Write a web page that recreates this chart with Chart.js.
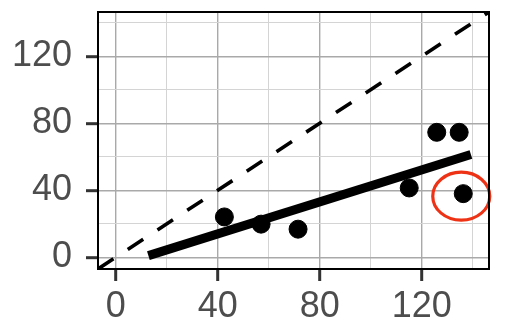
<!DOCTYPE html>
<html>
<head>
<meta charset="utf-8">
<script src="https://cdn.jsdelivr.net/npm/chart.js@4.4.1/dist/chart.umd.min.js"></script>
<style>
    html, body { margin: 0; padding: 0; background: #ffffff; }
    #wrap { width: 508px; height: 335px; }
</style>
</head>
<body>
<div id="wrap"><canvas id="scatterChart" width="508" height="335"></canvas></div>
<script>
// Observed points
const xValues = [42.6, 57.0, 71.5, 115.1, 125.9, 134.7, 136.3];
const yValues = [24.1, 19.8, 16.8, 41.4, 74.6, 74.6, 38.0];

// Fitted line end points
const fitX = [12.8, 139.3];
const fitY = [1.0, 61.4];

// Identity (y = x) reference line, corner to corner
const identityX = [-6.97, 146.4];

// Axis ticks
const tickValues = [0, 20, 40, 60, 80, 100, 120, 140];
const labelledTicks = [0, 40, 80, 120];
const axisMin = -6.97;
const axisMax = 146.4;

// Point that gets circled
const highlightIndex = 6;

const isMajor = v => labelledTicks.includes(v);

const panelBorder = {
    id: 'panelBorder',
    afterDraw(chart) {
        const { ctx, chartArea } = chart;
        ctx.save();
        ctx.strokeStyle = '#000000';
        ctx.lineWidth = 2;
        ctx.strokeRect(chartArea.left, chartArea.top,
            chartArea.right - chartArea.left, chartArea.bottom - chartArea.top);
        ctx.restore();
    }
};

const highlightRing = {
    id: 'highlightRing',
    afterDatasetsDraw(chart) {
        const { ctx } = chart;
        const cx = chart.scales.x.getPixelForValue(xValues[highlightIndex]) - 2;
        const cy = chart.scales.y.getPixelForValue(yValues[highlightIndex]) + 2.5;
        ctx.save();
        ctx.strokeStyle = '#ee3216';
        ctx.lineWidth = 3.2;
        ctx.beginPath();
        ctx.ellipse(cx, cy, 28.5, 24, 0, 0, Math.PI * 2);
        ctx.stroke();
        ctx.restore();
    }
};

function axisOptions(isX) {
    return {
        type: 'linear',
        min: axisMin,
        max: axisMax,
        afterBuildTicks(scale) {
            scale.ticks = tickValues.map(v => ({ value: v }));
        },
        afterFit(scale) {
            if (isX) scale.height = 66;
            else scale.width = 98;
            // keep label overhang from pushing the plot area around
            scale.paddingTop = 0;
            scale.paddingBottom = 0;
            scale.paddingLeft = 0;
            scale.paddingRight = 0;
        },
        border: { display: false },
        grid: {
            color: ctx => isMajor(ctx.tick.value) ? '#a9a9a9' : '#d4d4d4',
            lineWidth: ctx => isMajor(ctx.tick.value) ? 1.4 : 1,
            drawTicks: true,
            tickLength: 12,
            tickColor: ctx => isMajor(ctx.tick.value) ? '#333333' : 'rgba(0,0,0,0)',
            tickWidth: 3
        },
        ticks: {
            autoSkip: false,
            maxRotation: 0,
            padding: isX ? 4 : 14,
            color: '#4d4d4d',
            font: { family: 'Liberation Sans', size: 36 },
            callback: v => isMajor(v) ? String(v) : ''
        }
    };
}

new Chart(document.getElementById('scatterChart'), {
    type: 'scatter',
    data: {
        datasets: [
            {
                label: 'observed',
                data: xValues.map((x, i) => ({ x: x, y: yValues[i] })),
                backgroundColor: '#000000',
                borderColor: '#000000',
                pointRadius: 9,
                pointHoverRadius: 9,
                order: 1
            },
            {
                label: 'fit',
                type: 'line',
                data: fitX.map((x, i) => ({ x: x, y: fitY[i] })),
                borderColor: '#000000',
                borderWidth: 9,
                borderCapStyle: 'butt',
                pointRadius: 0,
                fill: false,
                order: 2
            },
            {
                label: 'identity',
                type: 'line',
                data: identityX.map(x => ({ x: x, y: x })),
                borderColor: '#000000',
                borderWidth: 3.6,
                borderDash: [18.5, 17.1],
                borderDashOffset: 0,
                pointRadius: 0,
                fill: false,
                order: 3
            }
        ]
    },
    options: {
        responsive: false,
        animation: false,
        layout: { padding: { top: 12, right: 19, left: 0, bottom: 0 } },
        plugins: {
            legend: { display: false },
            tooltip: { enabled: false }
        },
        scales: {
            x: axisOptions(true),
            y: axisOptions(false)
        }
    },
    plugins: [panelBorder, highlightRing]
});
</script>
</body>
</html>
